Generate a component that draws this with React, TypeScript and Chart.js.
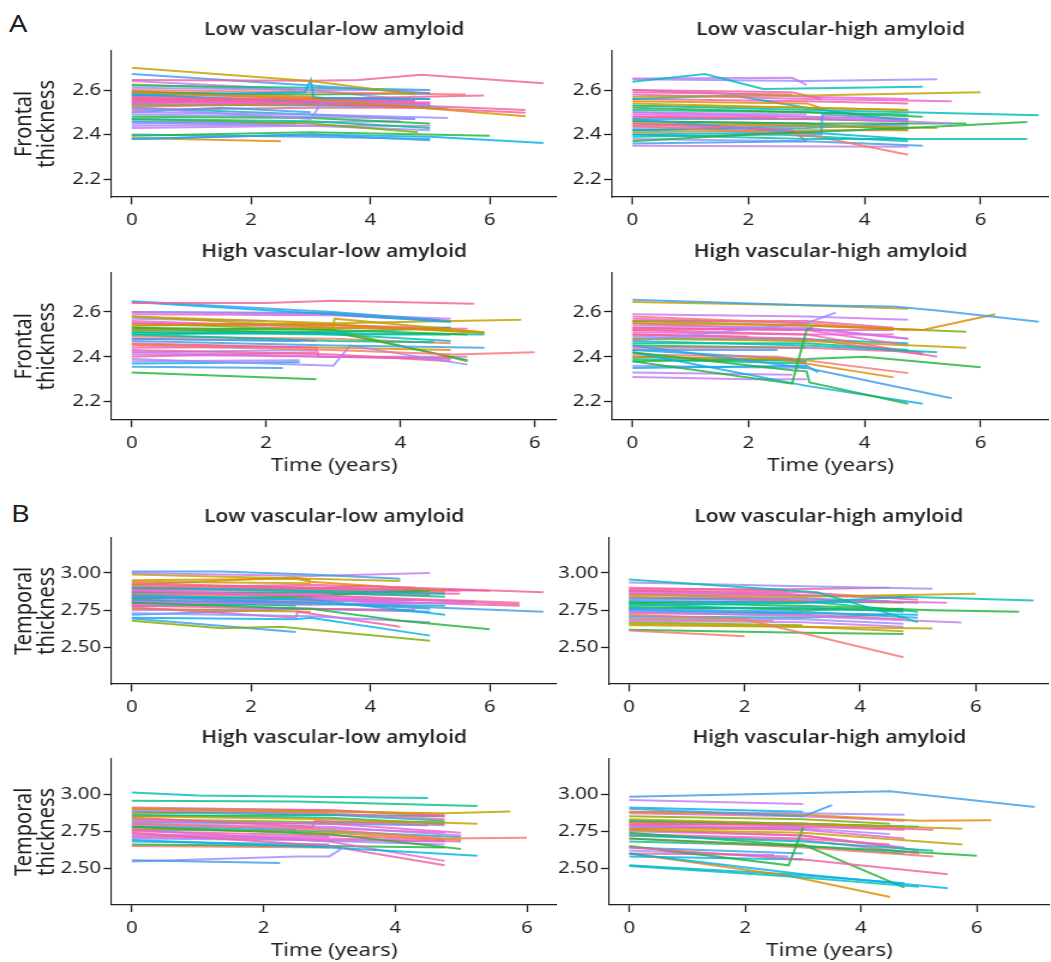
import React, { useEffect, useRef } from 'react';
import { Chart, registerables } from 'chart.js';

Chart.register(...registerables);

// ---------- tick labels ----------
const timeTicks = [0, 2, 4, 6];
const frontalTicks = [2.2, 2.4, 2.6];
const temporalTicks = [2.5, 2.75, 3.0];

const groupTitles = [
  'Low vascular-low amyloid',
  'Low vascular-high amyloid',
  'High vascular-low amyloid',
  'High vascular-high amyloid',
];
const frontalLabel = ['Frontal', 'thickness'];
const temporalLabel = ['Temporal', 'thickness'];
const timeLabel = 'Time (years)';

// ---------- data: each subject = [t0, y0, t1, y1, ...] ----------
const frontalLowVascLowAmy: number[][] = [
  [0, 2.700, 3, 2.640, 4.75, 2.580],
  [0, 2.645, 3, 2.642, 3.8, 2.645, 4.85, 2.668, 6.9, 2.630],
  [0, 2.672, 3, 2.620, 5, 2.585],
  [0, 2.590, 3, 2.560, 6.6, 2.482],
  [0, 2.575, 2.9, 2.590, 3, 2.645, 3.05, 2.565, 5, 2.560],
  [0, 2.520, 3, 2.470, 3.2, 2.550, 5, 2.530],
  [0, 2.570, 3, 2.550, 6.6, 2.510],
  [0, 2.560, 4, 2.530, 6.6, 2.498],
  [0, 2.550, 3, 2.560, 5.9, 2.575],
  [0, 2.600, 3, 2.590, 5.6, 2.580],
  [0, 2.610, 3, 2.600, 5, 2.600],
  [0, 2.590, 3, 2.580, 5, 2.585],
  [0, 2.555, 3, 2.560, 5, 2.560],
  [0, 2.540, 3, 2.540, 5, 2.545],
  [0, 2.530, 3, 2.535, 4.75, 2.540],
  [0, 2.580, 3, 2.545, 5.3, 2.517],
  [0, 2.500, 3, 2.490, 5.3, 2.475],
  [0, 2.480, 3, 2.475, 5, 2.450],
  [0, 2.470, 3, 2.460, 5, 2.430],
  [0, 2.380, 3, 2.400, 5, 2.375],
  [0, 2.395, 3, 2.410, 6, 2.395],
  [0, 2.380, 3, 2.400, 5, 2.390, 6.9, 2.362],
  [0, 2.385, 2.5, 2.370],
  [0, 2.470, 3, 2.450, 4.8, 2.410],
  [0, 2.440, 2.5, 2.445],
  [0, 2.430, 3, 2.440, 5, 2.440],
  [0, 2.450, 3, 2.455, 4.5, 2.460],
  [0, 2.500, 1.5, 2.520, 3, 2.500],
  [0, 2.620, 3, 2.610, 5, 2.600],
  [0, 2.640, 3, 2.600, 4.5, 2.560],
  [0, 2.510, 3, 2.520, 4.75, 2.520],
  [0, 2.545, 2.75, 2.555, 4.75, 2.545],
  [0, 2.560, 2.5, 2.550],
  [0, 2.535, 3, 2.530, 5, 2.525],
  [0, 2.490, 3, 2.480, 4.75, 2.470],
  [0, 2.460, 2.75, 2.450],
  [0, 2.595, 3, 2.570, 4.75, 2.530],
  [0, 2.625, 2.75, 2.600],
  [0, 2.520, 3, 2.490, 4.75, 2.470],
  [0, 2.575, 3, 2.555, 5, 2.540],
  [0, 2.400, 3, 2.390, 5, 2.380],
  [0, 2.565, 3, 2.545, 4.75, 2.555],
  [0, 2.550, 3, 2.535, 5, 2.530],
  [0, 2.585, 3, 2.565, 4.5, 2.555],
  [0, 2.540, 2.75, 2.560, 4.75, 2.550],
  [0, 2.525, 3, 2.540, 5, 2.535],
  [0, 2.455, 3, 2.440, 5, 2.420],
];

const frontalLowVascHighAmy: number[][] = [
  [0, 2.637, 1.25, 2.672, 2.25, 2.605, 5, 2.615],
  [0, 2.652, 2.75, 2.655, 3, 2.623],
  [0, 2.648, 3, 2.640, 5.25, 2.648],
  [0, 2.570, 3, 2.575, 6, 2.590],
  [0, 2.580, 3, 2.560, 5.5, 2.550],
  [0, 2.530, 3, 2.510, 4.75, 2.500, 7, 2.487],
  [0, 2.370, 2, 2.400, 4.75, 2.430, 6.8, 2.457],
  [0, 2.400, 3, 2.380, 6.8, 2.380],
  [0, 2.440, 3, 2.400, 4.75, 2.310],
  [0, 2.450, 2.75, 2.420, 3, 2.370],
  [0, 2.470, 3.25, 2.400, 3.27, 2.490, 4.75, 2.470],
  [0, 2.350, 4.75, 2.345],
  [0, 2.360, 3, 2.370, 5, 2.350],
  [0, 2.600, 2.75, 2.590, 3.25, 2.560],
  [0, 2.600, 3, 2.570, 4.75, 2.560],
  [0, 2.550, 3, 2.540, 3.25, 2.520],
  [0, 2.540, 3, 2.520, 4.75, 2.510],
  [0, 2.520, 3, 2.500, 5, 2.480],
  [0, 2.500, 3, 2.480, 5.5, 2.450],
  [0, 2.450, 3, 2.440, 5.25, 2.430],
  [0, 2.460, 3, 2.450, 5.75, 2.450],
  [0, 2.480, 3, 2.470, 4.75, 2.460],
  [0, 2.490, 3, 2.480, 4.75, 2.470],
  [0, 2.430, 3, 2.440, 4.75, 2.440],
  [0, 2.420, 3, 2.430, 4.75, 2.450],
  [0, 2.560, 1.75, 2.575, 3, 2.520, 4.75, 2.460],
  [0, 2.510, 3, 2.500, 4.75, 2.490],
  [0, 2.470, 3, 2.470, 4.75, 2.460],
  [0, 2.390, 2.5, 2.400, 4.75, 2.370],
  [0, 2.410, 3, 2.420, 4.75, 2.420],
  [0, 2.380, 3, 2.370],
  [0, 2.440, 3, 2.450],
  [0, 2.480, 2.5, 2.475],
  [0, 2.530, 3, 2.520, 4.75, 2.510],
  [0, 2.590, 2.75, 2.580],
  [0, 2.460, 3, 2.450, 4.75, 2.420],
  [0, 2.400, 3, 2.410, 4.75, 2.380],
  [0, 2.500, 3, 2.490],
  [0, 2.560, 3, 2.550, 4.75, 2.540],
  [0, 2.420, 3, 2.440, 4.75, 2.430],
];

const frontalHighVascLowAmy: number[][] = [
  [0, 2.640, 2, 2.640, 3, 2.650, 5.1, 2.637],
  [0, 2.648, 3, 2.600, 4.6, 2.563],
  [0, 2.645, 3, 2.590, 4.75, 2.555],
  [0, 2.600, 3, 2.590, 4.75, 2.570],
  [0, 2.580, 3, 2.550, 5.8, 2.565],
  [0, 2.580, 3, 2.530, 3.02, 2.570, 5.25, 2.510],
  [0, 2.590, 3, 2.585, 4.75, 2.560],
  [0, 2.540, 2.5, 2.550, 5.25, 2.510],
  [0, 2.530, 3, 2.520, 5, 2.500],
  [0, 2.510, 3, 2.505, 5.25, 2.500],
  [0, 2.520, 3, 2.530, 4.75, 2.520],
  [0, 2.500, 3, 2.510, 4.75, 2.530],
  [0, 2.550, 3, 2.540, 4.75, 2.530],
  [0, 2.560, 3, 2.530, 5, 2.525],
  [0, 2.330, 2.75, 2.300],
  [0, 2.355, 2.25, 2.350],
  [0, 2.450, 3, 2.430, 4.8, 2.410, 6, 2.420],
  [0, 2.470, 3, 2.450, 5.25, 2.440],
  [0, 2.390, 3, 2.360, 3.25, 2.450, 5, 2.365],
  [0, 2.520, 3, 2.510, 5, 2.385],
  [0, 2.550, 3, 2.520, 5, 2.380],
  [0, 2.430, 3, 2.410, 4.75, 2.380],
  [0, 2.410, 3, 2.400, 4.75, 2.390],
  [0, 2.460, 2.75, 2.440, 2.78, 2.400, 4.75, 2.395],
  [0, 2.480, 2.5, 2.470],
  [0, 2.440, 2.5, 2.445],
  [0, 2.420, 3, 2.400, 5, 2.400],
  [0, 2.500, 3, 2.470, 4.5, 2.465],
  [0, 2.370, 2.5, 2.375],
  [0, 2.400, 2.75, 2.420],
  [0, 2.490, 3, 2.480, 4.75, 2.460],
  [0, 2.570, 2, 2.560],
  [0, 2.455, 3, 2.440, 4.75, 2.430],
  [0, 2.530, 3, 2.500, 4.75, 2.470],
  [0, 2.480, 2.75, 2.470],
  [0, 2.600, 3, 2.595, 4.75, 2.560],
  [0, 2.540, 3, 2.545, 5.25, 2.505],
  [0, 2.510, 3, 2.500, 4.75, 2.500],
  [0, 2.420, 2.75, 2.430],
  [0, 2.380, 2.5, 2.385],
];

const frontalHighVascHighAmy: number[][] = [
  [0, 2.655, 3, 2.630, 4.5, 2.624, 5.25, 2.607, 7, 2.556],
  [0, 2.645, 3, 2.630, 4.75, 2.615],
  [0, 2.550, 3, 2.540, 5, 2.520, 6.25, 2.590],
  [0, 2.470, 3, 2.550, 3.5, 2.597],
  [0, 2.380, 2.75, 2.280, 3, 2.520, 3.1, 2.530],
  [0, 2.420, 2.75, 2.340, 3, 2.335, 3.05, 2.285, 4.75, 2.190],
  [0, 2.420, 3, 2.270, 5, 2.190],
  [0, 2.450, 3, 2.350, 5.5, 2.215],
  [0, 2.410, 2.5, 2.400, 4.75, 2.327],
  [0, 2.400, 2.5, 2.390, 4.5, 2.308],
  [0, 2.380, 3, 2.390, 4, 2.400, 6, 2.353],
  [0, 2.480, 3, 2.470, 5.75, 2.440],
  [0, 2.560, 3, 2.540, 5.75, 2.512],
  [0, 2.310, 2, 2.300, 3, 2.300],
  [0, 2.590, 3, 2.580, 4.75, 2.565],
  [0, 2.470, 3, 2.450, 5.25, 2.420],
  [0, 2.520, 3, 2.500, 5.25, 2.400],
  [0, 2.430, 2.5, 2.430],
  [0, 2.540, 3, 2.530, 4.75, 2.480],
  [0, 2.550, 3, 2.520, 4.75, 2.450],
  [0, 2.500, 3, 2.480, 5, 2.410],
  [0, 2.580, 3, 2.550, 4.75, 2.520],
  [0, 2.530, 3, 2.520, 4.5, 2.520],
  [0, 2.510, 3, 2.500, 4.5, 2.500],
  [0, 2.520, 3, 2.525, 4.75, 2.480],
  [0, 2.460, 3, 2.460, 4.75, 2.430],
  [0, 2.440, 3, 2.440, 5, 2.420],
  [0, 2.490, 3, 2.470],
  [0, 2.330, 2.75, 2.320],
  [0, 2.350, 3, 2.360, 3.2, 2.330],
  [0, 2.400, 3, 2.380],
  [0, 2.390, 3, 2.370],
  [0, 2.430, 2.75, 2.390, 3, 2.380],
  [0, 2.500, 2, 2.490],
  [0, 2.560, 3, 2.560, 4.5, 2.530],
  [0, 2.570, 3, 2.550],
  [0, 2.480, 2.75, 2.480, 4.75, 2.460],
  [0, 2.450, 3, 2.440],
  [0, 2.530, 2.75, 2.520],
  [0, 2.360, 3, 2.350],
];

const temporalLowVascLowAmy: number[][] = [
  [0, 3.010, 1.5, 3.010, 3, 2.990, 4.5, 2.960],
  [0, 3.000, 3, 2.980, 5, 3.000],
  [0, 2.990, 3, 2.960, 4.5, 2.945],
  [0, 2.930, 3, 2.900, 4, 2.910, 6.9, 2.870],
  [0, 2.880, 3, 2.850, 6.5, 2.790],
  [0, 2.860, 3, 2.850, 6.5, 2.800],
  [0, 2.840, 3, 2.800, 6.9, 2.740],
  [0, 2.800, 3, 2.760, 4.5, 2.680, 6, 2.622],
  [0, 2.680, 1.5, 2.630, 2.5, 2.640, 5, 2.545],
  [0, 2.695, 2.75, 2.605],
  [0, 2.700, 2.75, 2.690, 3, 2.700, 5, 2.580],
  [0, 2.730, 3, 2.710, 5, 2.670],
  [0, 2.770, 2.75, 2.700, 2.78, 2.740, 4.5, 2.640],
  [0, 2.950, 2.75, 2.960, 3, 2.940, 5.25, 2.880],
  [0, 2.920, 2.75, 2.970, 3, 2.950],
  [0, 2.900, 3, 2.880, 5.25, 2.860],
  [0, 2.870, 3, 2.870, 5.25, 2.840],
  [0, 2.850, 3, 2.820, 5.25, 2.720],
  [0, 2.820, 3, 2.800, 5, 2.760],
  [0, 2.810, 3, 2.790, 5.75, 2.800],
  [0, 2.790, 3, 2.830, 5.75, 2.810],
  [0, 2.780, 3, 2.760, 4.75, 2.750],
  [0, 2.830, 3, 2.840, 4, 2.870, 5, 2.880],
  [0, 2.890, 3, 2.900, 6, 2.880],
  [0, 2.910, 3, 2.890, 5, 2.860],
  [0, 2.760, 3, 2.740],
  [0, 2.750, 2.75, 2.760, 4.75, 2.750],
  [0, 2.940, 3, 2.930],
  [0, 2.810, 2.5, 2.800],
  [0, 2.850, 3, 2.860, 5, 2.850],
  [0, 2.870, 3, 2.840, 4.75, 2.800],
  [0, 2.900, 3, 2.920, 4.75, 2.900],
  [0, 2.780, 3, 2.790, 5.25, 2.780],
  [0, 2.820, 2.75, 2.780],
  [0, 2.880, 3, 2.890, 5.25, 2.870],
  [0, 2.840, 3, 2.830, 4.5, 2.790],
  [0, 2.800, 3, 2.810, 4.75, 2.820],
  [0, 2.720, 3, 2.760, 5, 2.740],
  [0, 2.860, 2.5, 2.850],
  [0, 2.920, 3, 2.900, 5.5, 2.880],
  [0, 2.860, 3, 2.870, 5.5, 2.860],
  [0, 2.830, 3, 2.820, 6.5, 2.780],
  [0, 2.895, 3, 2.880, 5.75, 2.885],
  [0, 2.800, 3, 2.790, 5, 2.800],
];

const temporalLowVascHighAmy: number[][] = [
  [0, 2.955, 3.25, 2.870, 5, 2.670],
  [0, 2.935, 3, 2.910, 5.25, 2.893],
  [0, 2.890, 2.75, 2.890, 4.5, 2.900],
  [0, 2.850, 3, 2.840, 6, 2.860],
  [0, 2.780, 3, 2.800, 4.75, 2.840, 7, 2.815],
  [0, 2.800, 3, 2.780, 5.25, 2.750, 6.75, 2.740],
  [0, 2.860, 3, 2.820, 5.5, 2.800],
  [0, 2.740, 3, 2.710, 5.75, 2.667],
  [0, 2.615, 2, 2.575],
  [0, 2.720, 2, 2.690, 4.75, 2.435],
  [0, 2.620, 3, 2.600, 4.75, 2.590],
  [0, 2.660, 3, 2.640, 5.25, 2.627],
  [0, 2.880, 3, 2.870, 5, 2.820],
  [0, 2.870, 3, 2.850, 4.75, 2.830],
  [0, 2.830, 3, 2.830, 5, 2.800],
  [0, 2.810, 3, 2.800, 4.5, 2.810],
  [0, 2.790, 3, 2.750, 4.75, 2.760],
  [0, 2.760, 3, 2.740, 5, 2.700],
  [0, 2.700, 3, 2.690, 4.75, 2.660],
  [0, 2.680, 3, 2.670, 4.75, 2.640],
  [0, 2.650, 3, 2.640, 4.75, 2.610],
  [0, 2.750, 3, 2.730, 5, 2.720],
  [0, 2.730, 3, 2.720, 4.75, 2.690],
  [0, 2.820, 2.75, 2.820],
  [0, 2.840, 3, 2.810, 4.75, 2.800],
  [0, 2.900, 2.75, 2.880],
  [0, 2.770, 3, 2.760, 4.75, 2.750],
  [0, 2.710, 3, 2.700, 4.5, 2.720],
  [0, 2.690, 2.5, 2.680],
  [0, 2.670, 3, 2.650],
  [0, 2.860, 3, 2.850, 4.75, 2.840],
  [0, 2.800, 3, 2.810, 5, 2.740],
  [0, 2.760, 3, 2.770, 4.75, 2.740],
  [0, 2.880, 2.75, 2.860, 3, 2.850],
  [0, 2.740, 3, 2.730],
];

const temporalHighVascLowAmy: number[][] = [
  [0, 3.010, 1, 2.990, 4.5, 2.973],
  [0, 2.955, 2.5, 2.950, 5.25, 2.920],
  [0, 2.900, 3, 2.880, 4.75, 2.870, 5.75, 2.882],
  [0, 2.850, 3, 2.830, 5.25, 2.800],
  [0, 2.800, 3, 2.760, 4.75, 2.700, 6, 2.705],
  [0, 2.555, 2.25, 2.535],
  [0, 2.545, 2.5, 2.580, 3, 2.580, 3.25, 2.650],
  [0, 2.690, 3, 2.640, 5.25, 2.585],
  [0, 2.740, 3, 2.650, 4.75, 2.520],
  [0, 2.760, 3, 2.680, 4.75, 2.550],
  [0, 2.780, 3, 2.730, 5, 2.630],
  [0, 2.660, 3, 2.650, 4.75, 2.640],
  [0, 2.900, 3, 2.890, 4.75, 2.850],
  [0, 2.890, 3, 2.870, 4.75, 2.830],
  [0, 2.880, 3, 2.860, 4.75, 2.820],
  [0, 2.860, 3, 2.840, 4.75, 2.800],
  [0, 2.840, 2.75, 2.780, 2.78, 2.820, 4.75, 2.790],
  [0, 2.820, 3, 2.800, 5, 2.740],
  [0, 2.800, 3, 2.780, 5, 2.720],
  [0, 2.770, 3, 2.740, 5, 2.690],
  [0, 2.750, 3, 2.720, 4.75, 2.690],
  [0, 2.720, 3, 2.700, 5, 2.680],
  [0, 2.700, 2.5, 2.690, 4.75, 2.660],
  [0, 2.680, 3, 2.660],
  [0, 2.650, 3, 2.640],
  [0, 2.780, 2.5, 2.760],
  [0, 2.830, 3, 2.810, 4.75, 2.810],
  [0, 2.870, 3, 2.880],
  [0, 2.910, 3, 2.890, 4.75, 2.860],
  [0, 2.810, 3, 2.800, 4.5, 2.790],
  [0, 2.760, 3, 2.750, 5, 2.710],
  [0, 2.730, 3, 2.710],
  [0, 2.790, 3, 2.770, 4.75, 2.740],
  [0, 2.850, 3, 2.860, 4.75, 2.850],
  [0, 2.710, 3, 2.690, 4.75, 2.680],
];

const temporalHighVascHighAmy: number[][] = [
  [0, 2.982, 4.5, 3.018, 7, 2.913],
  [0, 2.960, 3, 2.932],
  [0, 2.900, 3, 2.850, 3.5, 2.925],
  [0, 2.880, 3, 2.860, 5, 2.820, 6.25, 2.823],
  [0, 2.830, 3, 2.800, 5.75, 2.766],
  [0, 2.760, 3, 2.740, 5.75, 2.660],
  [0, 2.700, 3, 2.650, 4.5, 2.620, 6, 2.584],
  [0, 2.720, 3, 2.680, 5.25, 2.618],
  [0, 2.640, 3, 2.560, 5.5, 2.460],
  [0, 2.600, 3, 2.460, 5.5, 2.365],
  [0, 2.516, 2.85, 2.443, 5, 2.375],
  [0, 2.740, 2.75, 2.660, 3, 2.660, 4.75, 2.370],
  [0, 2.650, 2.75, 2.520, 3, 2.773],
  [0, 2.600, 2.75, 2.450, 4.5, 2.307],
  [0, 2.520, 2.75, 2.460, 4.75, 2.400],
  [0, 2.880, 3, 2.870, 4.75, 2.860],
  [0, 2.870, 3, 2.850, 4.75, 2.820],
  [0, 2.820, 3, 2.800, 5, 2.780],
  [0, 2.800, 3, 2.790, 5.25, 2.760],
  [0, 2.790, 3, 2.760, 4.75, 2.700],
  [0, 2.780, 3, 2.770, 4.5, 2.730],
  [0, 2.760, 3, 2.720, 5, 2.620],
  [0, 2.750, 3, 2.720, 4.75, 2.640],
  [0, 2.720, 3, 2.690, 5, 2.600],
  [0, 2.700, 3, 2.640, 5.25, 2.580],
  [0, 2.640, 3, 2.600],
  [0, 2.620, 2.75, 2.580],
  [0, 2.600, 2.5, 2.590],
  [0, 2.580, 3, 2.560],
  [0, 2.810, 3, 2.800, 4.75, 2.780],
  [0, 2.850, 3, 2.830, 4.5, 2.800],
  [0, 2.680, 3, 2.650, 4.75, 2.600],
  [0, 2.770, 3, 2.760],
  [0, 2.820, 2.75, 2.800],
  [0, 2.730, 3, 2.700, 4.5, 2.660],
  [0, 2.910, 3, 2.880],
  [0, 2.790, 3, 2.800, 4.5, 2.780],
  [0, 2.770, 3, 2.780, 4.75, 2.760],
  [0, 2.810, 3, 2.790],
];

// ---------- styling ----------
const SX = 1.2; // horizontal stretch of the original figure
const FONT = "'Noto Sans', 'Open Sans', sans-serif";
const TITLE_FONT = "'Open Sans', 'Noto Sans', sans-serif";
const INK = '#1f1f1f';
const LINE_ALPHA = 0.82;

const PALETTE: Record<string, string> = {
  r: '#F8766D', o: '#E08B00', y: '#C2A000', v: '#7CAE00', g: '#20B33C',
  t: '#00BF8A', c: '#00BDB6', s: '#00B2E8', b: '#3C9FE8', l: '#9C8CFF',
  p: '#C67BF0', m: '#EC63D6', k: '#F2609F',
};

const colorCodes = {
  fLL: 'ykboslkkkrlgkmyslgtbgsovlplbtpkmkclboyckbkkmkkl',
  fLH: 'cplymcgcrkbpbkmoygpygkmlsstbcolmkyktspkg',
  fHL: 'kbspyymogcotkmgbrblgvkmkbmptskrlocmbytlp',
  fHH: 'byolggsbrogyvppckbpmkrkmmtklpsctskkmcgrl',
  tLL: 'bpykmrbgvbslkoyctsbpmkgkrolykmpkctmlkbokkkmk',
  tLH: 'clkycgmprrgykmbstblpyskmokgcovptsml',
  tHL: 'ctyyrblskmggkmctkmpokmlbrsvokbcpmgk',
  tHH: 'bpboyygckscggoslmtkmlkpmrblksyvtomkskkm',
};

function rgba(hex: string, a: number) {
  const n = parseInt(hex.slice(1), 16);
  return `rgba(${(n >> 16) & 255},${(n >> 8) & 255},${n & 255},${a})`;
}

function toPoints(flat: number[]) {
  const pts: { x: number; y: number }[] = [];
  for (let i = 0; i < flat.length; i += 2) pts.push({ x: flat[i], y: flat[i + 1] });
  return pts;
}

interface PanelSpec {
  data: number[][];
  colors: string;
  title: string;
  yTitle?: string[];
  xTitle: boolean;
  plot: [number, number, number, number]; // page px: left, top, right, bottom
  xRange: [number, number];
  yRange: [number, number];
  yTicks: number[];
  yDigits: number;
}

const TITLE_SIZE = 17.5;
const TITLE_PT = 4;
const TITLE_PB = 9.8;
const TITLE_BLOCK = TITLE_PT + TITLE_SIZE * 1.2 + TITLE_PB;

const panels: PanelSpec[] = [
  { data: frontalLowVascLowAmy, colors: colorCodes.fLL, title: groupTitles[0], yTitle: frontalLabel, xTitle: false,
    plot: [111.6, 50.7, 557.2, 197.1], xRange: [-0.338, 7.125], yRange: [2.12, 2.776], yTicks: frontalTicks, yDigits: 1 },
  { data: frontalLowVascHighAmy, colors: colorCodes.fLH, title: groupTitles[1], xTitle: false,
    plot: [612.4, 50.8, 1049, 197.4], xRange: [-0.352, 7.18], yRange: [2.12, 2.776], yTicks: frontalTicks, yDigits: 1 },
  { data: frontalHighVascLowAmy, colors: colorCodes.fHL, title: groupTitles[2], yTitle: frontalLabel, xTitle: true,
    plot: [111.6, 272.3, 557.2, 419.3], xRange: [-0.3, 6.33], yRange: [2.119, 2.775], yTicks: frontalTicks, yDigits: 1 },
  { data: frontalHighVascHighAmy, colors: colorCodes.fHH, title: groupTitles[3], xTitle: true,
    plot: [612.4, 272.3, 1049, 419.5], xRange: [-0.352, 7.18], yRange: [2.119, 2.775], yTicks: frontalTicks, yDigits: 1 },
  { data: temporalLowVascLowAmy, colors: colorCodes.tLL, title: groupTitles[0], yTitle: temporalLabel, xTitle: false,
    plot: [111.6, 537.3, 557.2, 683.4], xRange: [-0.338, 7.125], yRange: [2.256, 3.235], yTicks: temporalTicks, yDigits: 2 },
  { data: temporalLowVascHighAmy, colors: colorCodes.tLH, title: groupTitles[1], xTitle: false,
    plot: [609.1, 537.4, 1049, 683.6], xRange: [-0.344, 7.26], yRange: [2.256, 3.235], yTicks: temporalTicks, yDigits: 2 },
  { data: temporalHighVascLowAmy, colors: colorCodes.tHL, title: groupTitles[2], yTitle: temporalLabel, xTitle: true,
    plot: [111.6, 758.9, 557.2, 905.3], xRange: [-0.307, 6.455], yRange: [2.255, 3.237], yTicks: temporalTicks, yDigits: 2 },
  { data: temporalHighVascHighAmy, colors: colorCodes.tHH, title: groupTitles[3], xTitle: true,
    plot: [608.7, 758.9, 1049, 905.3], xRange: [-0.35, 7.26], yRange: [2.255, 3.237], yTicks: temporalTicks, yDigits: 2 },
];

function geometry(spec: PanelSpec) {
  const [pl, pt, pr, pb] = spec.plot;
  const cl = spec.yTitle ? 0 : pl - 62;
  const yW = (pl - cl) / SX;
  const cw = Math.round((pr - cl) / SX);
  const ct = pt - TITLE_BLOCK;
  const hx = spec.xTitle ? 61.3 : 36;
  const ch = Math.round(pb - ct + hx);
  return { cl, ct, cw, ch, yW, hx };
}

function Panel({ spec }: { spec: PanelSpec }) {
  const ref = useRef<HTMLCanvasElement | null>(null);
  const geo = geometry(spec);
  useEffect(() => {
    const canvas = ref.current;
    if (!canvas) return;
    const datasets = spec.data.map((flat, i) => ({
      data: toPoints(flat),
      borderColor: rgba(PALETTE[spec.colors[i % spec.colors.length]] || '#888888', LINE_ALPHA),
      borderWidth: 2,
      pointRadius: 0,
      pointHoverRadius: 0,
      fill: false,
      tension: 0,
    }));
    const chart = new Chart(canvas, {
      type: 'line',
      data: { datasets },
      options: {
        animation: false,
        responsive: false,
        events: [],
        layout: { padding: 0 },
        plugins: {
          legend: { display: false },
          tooltip: { enabled: false },
          title: {
            display: true,
            text: spec.title,
            fullSize: false,
            color: INK,
            font: { family: TITLE_FONT, size: TITLE_SIZE, weight: '600', lineHeight: 1.2 },
            padding: { top: TITLE_PT, bottom: TITLE_PB },
          },
        },
        scales: {
          x: {
            type: 'linear',
            position: 'bottom',
            bounds: 'data',
            min: spec.xRange[0],
            max: spec.xRange[1],
            afterBuildTicks: (s: any) => { s.ticks = timeTicks.map((v) => ({ value: v })); },
            afterFit: (s: any) => { s.height = geo.hx; },
            ticks: {
              color: INK,
              font: { family: FONT, size: 17 },
              padding: 5.5,
              maxRotation: 0,
              callback: (v: any) => String(v),
            },
            grid: { display: true, drawOnChartArea: false, drawTicks: true, tickLength: 7.4, tickColor: INK, tickWidth: 1.3 },
            border: { display: true, color: INK, width: 1.3 },
            title: spec.xTitle
              ? { display: true, text: timeLabel, color: INK, font: { family: FONT, size: 18.5, lineHeight: 1.2 }, padding: { top: 0, bottom: 4 } }
              : { display: false },
          },
          y: {
            type: 'linear',
            position: 'left',
            bounds: 'data',
            min: spec.yRange[0],
            max: spec.yRange[1],
            afterBuildTicks: (s: any) => { s.ticks = spec.yTicks.map((v) => ({ value: v })); },
            afterFit: (s: any) => { s.width = geo.yW; },
            ticks: {
              color: INK,
              font: { family: FONT, size: 17 },
              padding: 2,
              callback: (v: any) => Number(v).toFixed(spec.yDigits),
            },
            grid: { display: true, drawOnChartArea: false, drawTicks: true, tickLength: 6.7, tickColor: INK, tickWidth: 1.3 },
            border: { display: true, color: INK, width: 1.1 },
            title: spec.yTitle
              ? { display: true, text: spec.yTitle, color: INK, font: { family: FONT, size: 20, lineHeight: 0.95 }, padding: { top: 10.3, bottom: 0 } }
              : { display: false },
          },
        },
      } as any,
    });
    return () => chart.destroy();
  }, []);
  return (
    <div
      style={{
        position: 'absolute',
        left: geo.cl,
        top: geo.ct,
        width: geo.cw,
        height: geo.ch,
        transform: `scaleX(${SX})`,
        transformOrigin: '0 0',
      }}
    >
      <canvas ref={ref} width={geo.cw} height={geo.ch} style={{ display: 'block', width: geo.cw, height: geo.ch }} />
    </div>
  );
}

const letterStyle: React.CSSProperties = {
  position: 'absolute',
  fontFamily: FONT,
  fontSize: 24,
  lineHeight: 1,
  color: INK,
  transform: `scaleX(${SX})`,
  transformOrigin: '0 0',
  whiteSpace: 'nowrap',
};

export default function App() {
  return (
    <div style={{ position: 'absolute', left: 0, top: 0, width: 1051, height: 962, overflow: 'hidden', background: '#ffffff' }}>
      <div style={{ ...letterStyle, left: 9, top: 10.8 }}>A</div>
      <div style={{ ...letterStyle, left: 11, top: 500.8 }}>B</div>
      {panels.map((p, i) => (
        <Panel key={i} spec={p} />
      ))}
    </div>
  );
}
